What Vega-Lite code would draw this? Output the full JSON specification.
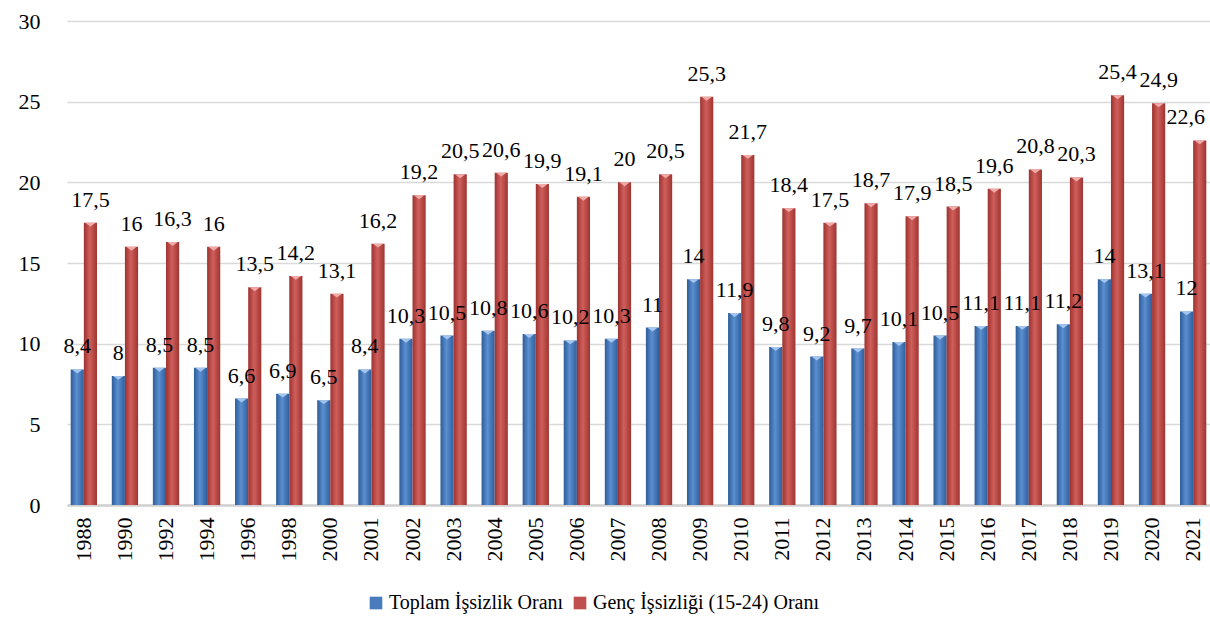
{
  "$schema": "https://vega.github.io/schema/vega-lite/v6.json",
  "autosize": "none",
  "padding": {"left": 67, "top": 21, "right": 0, "bottom": 120},
  "width": 1143,
  "height": 484,
  "background": "white",
  "config": {
    "locale": {"number": {"decimal": ",", "thousands": ".", "grouping": [3], "currency": ["", " TL"]}},
    "font": "'Liberation Serif', 'DejaVu Serif', serif",
    "view": {"stroke": null},
    "axis": {"labelFont": "'Liberation Serif', 'DejaVu Serif', serif", "labelFontSize": 22, "labelColor": "#000000", "ticks": false, "title": null},
    "legend": {"labelFont": "'Liberation Serif', 'DejaVu Serif', serif", "labelFontSize": 20, "labelColor": "#000000", "labelLimit": 0}
  },
  "data": {
    "values": [
      {"year": "1988", "Toplam İşsizlik Oranı": 8.4, "Genç İşsizliği (15-24) Oranı": 17.5},
      {"year": "1990", "Toplam İşsizlik Oranı": 8, "Genç İşsizliği (15-24) Oranı": 16},
      {"year": "1992", "Toplam İşsizlik Oranı": 8.5, "Genç İşsizliği (15-24) Oranı": 16.3},
      {"year": "1994", "Toplam İşsizlik Oranı": 8.5, "Genç İşsizliği (15-24) Oranı": 16},
      {"year": "1996", "Toplam İşsizlik Oranı": 6.6, "Genç İşsizliği (15-24) Oranı": 13.5},
      {"year": "1998", "Toplam İşsizlik Oranı": 6.9, "Genç İşsizliği (15-24) Oranı": 14.2},
      {"year": "2000", "Toplam İşsizlik Oranı": 6.5, "Genç İşsizliği (15-24) Oranı": 13.1},
      {"year": "2001", "Toplam İşsizlik Oranı": 8.4, "Genç İşsizliği (15-24) Oranı": 16.2},
      {"year": "2002", "Toplam İşsizlik Oranı": 10.3, "Genç İşsizliği (15-24) Oranı": 19.2},
      {"year": "2003", "Toplam İşsizlik Oranı": 10.5, "Genç İşsizliği (15-24) Oranı": 20.5},
      {"year": "2004", "Toplam İşsizlik Oranı": 10.8, "Genç İşsizliği (15-24) Oranı": 20.6},
      {"year": "2005", "Toplam İşsizlik Oranı": 10.6, "Genç İşsizliği (15-24) Oranı": 19.9},
      {"year": "2006", "Toplam İşsizlik Oranı": 10.2, "Genç İşsizliği (15-24) Oranı": 19.1},
      {"year": "2007", "Toplam İşsizlik Oranı": 10.3, "Genç İşsizliği (15-24) Oranı": 20},
      {"year": "2008", "Toplam İşsizlik Oranı": 11, "Genç İşsizliği (15-24) Oranı": 20.5},
      {"year": "2009", "Toplam İşsizlik Oranı": 14, "Genç İşsizliği (15-24) Oranı": 25.3},
      {"year": "2010", "Toplam İşsizlik Oranı": 11.9, "Genç İşsizliği (15-24) Oranı": 21.7},
      {"year": "2011", "Toplam İşsizlik Oranı": 9.8, "Genç İşsizliği (15-24) Oranı": 18.4},
      {"year": "2012", "Toplam İşsizlik Oranı": 9.2, "Genç İşsizliği (15-24) Oranı": 17.5},
      {"year": "2013", "Toplam İşsizlik Oranı": 9.7, "Genç İşsizliği (15-24) Oranı": 18.7},
      {"year": "2014", "Toplam İşsizlik Oranı": 10.1, "Genç İşsizliği (15-24) Oranı": 17.9},
      {"year": "2015", "Toplam İşsizlik Oranı": 10.5, "Genç İşsizliği (15-24) Oranı": 18.5},
      {"year": "2016", "Toplam İşsizlik Oranı": 11.1, "Genç İşsizliği (15-24) Oranı": 19.6},
      {"year": "2017", "Toplam İşsizlik Oranı": 11.1, "Genç İşsizliği (15-24) Oranı": 20.8},
      {"year": "2018", "Toplam İşsizlik Oranı": 11.2, "Genç İşsizliği (15-24) Oranı": 20.3},
      {"year": "2019", "Toplam İşsizlik Oranı": 14, "Genç İşsizliği (15-24) Oranı": 25.4},
      {"year": "2020", "Toplam İşsizlik Oranı": 13.1, "Genç İşsizliği (15-24) Oranı": 24.9},
      {"year": "2021", "Toplam İşsizlik Oranı": 12, "Genç İşsizliği (15-24) Oranı": 22.6}
    ]
  },
  "transform": [
    {"fold": ["Toplam İşsizlik Oranı", "Genç İşsizliği (15-24) Oranı"], "as": ["series", "value"]}
  ],
  "encoding": {
    "x": {
      "field": "year", "type": "nominal", "sort": null,
      "scale": {"paddingInner": 0.36, "paddingOuter": 0.09},
      "axis": {"labelAngle": -90, "labelPadding": 12, "domainColor": "#d0d0d0", "domainWidth": 2.5, "grid": false}
    },
    "xOffset": {"field": "series", "type": "nominal", "scale": {"domain": ["Toplam İşsizlik Oranı", "Genç İşsizliği (15-24) Oranı"]}},
    "y": {
      "field": "value", "type": "quantitative",
      "scale": {"domain": [0, 30], "nice": false},
      "axis": {"values": [0, 5, 10, 15, 20, 25, 30], "domain": false, "gridColor": "#d9d9d9", "gridWidth": 1.5, "labelPadding": 27}
    }
  },
  "layer": [
    {
      "mark": {"type": "square", "opacity": 0, "size": 1},
      "encoding": {
        "color": {
          "field": "series", "type": "nominal",
          "scale": {"domain": ["Toplam İşsizlik Oranı", "Genç İşsizliği (15-24) Oranı"], "range": ["#4a7cbd", "#c0504d"]},
          "legend": {
            "title": null, "orient": "none", "direction": "horizontal",
            "legendX": 299, "legendY": 572, "symbolType": "square", "symbolSize": 160,
            "symbolOpacity": 1, "symbolStrokeWidth": 0, "columnPadding": 6, "labelOffset": 3
          }
        }
      }
    },
    {
      "transform": [{"filter": "datum.series === 'Toplam İşsizlik Oranı'"}],
      "mark": {"type": "bar", "color": {"gradient": "linear", "x1": 0, "y1": 0, "x2": 1, "y2": 0, "stops": [{"offset": 0, "color": "#2d5c99"}, {"offset": 0.45, "color": "#5b8fd0"}, {"offset": 1, "color": "#2f5e9c"}]}}
    },
    {
      "transform": [{"filter": "datum.series !== 'Toplam İşsizlik Oranı'"}],
      "mark": {"type": "bar", "color": {"gradient": "linear", "x1": 0, "y1": 0, "x2": 1, "y2": 0, "stops": [{"offset": 0, "color": "#9c3230"}, {"offset": 0.45, "color": "#d05f5b"}, {"offset": 1, "color": "#9e3431"}]}}
    },
    {
      "transform": [{"filter": "datum.series === 'Toplam İşsizlik Oranı'"}],
      "mark": {"type": "point", "shape": "M-1,0L1,0L0,0.75Z", "size": 110, "filled": true, "opacity": 1, "color": "#a4c6ee", "strokeWidth": 0}
    },
    {
      "transform": [{"filter": "datum.series !== 'Toplam İşsizlik Oranı'"}],
      "mark": {"type": "point", "shape": "M-1,0L1,0L0,0.75Z", "size": 110, "filled": true, "opacity": 1, "color": "#f0aaa8", "strokeWidth": 0}
    },
    {
      "mark": {"type": "text", "baseline": "alphabetic", "dy": -16, "fontSize": 22, "font": "'Liberation Serif', 'DejaVu Serif', serif", "color": "#000000",
        "dx": {"expr": "datum.year === '2021' && datum.series !== 'Toplam İşsizlik Oranı' ? -14 : 0"}},
      "encoding": {
        "text": {"field": "value", "type": "quantitative", "format": ".1~f"}
      }
    }
  ]
}
